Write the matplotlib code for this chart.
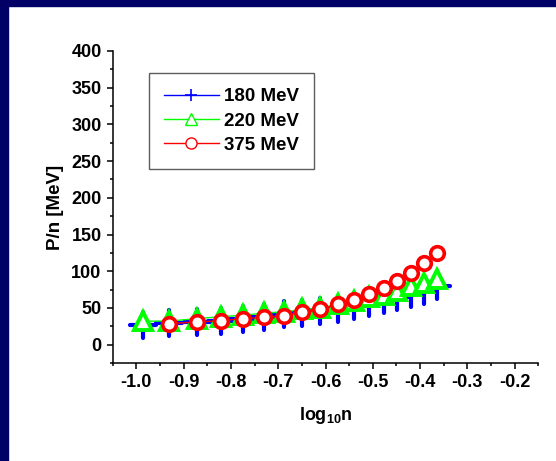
import matplotlib
matplotlib.use("Agg")
import matplotlib.pyplot as plt
from matplotlib.lines import Line2D
from matplotlib.markers import MarkerStyle
from matplotlib.patches import Rectangle
from matplotlib.ticker import MultipleLocator, FormatStrFormatter

# log10 of density, shared grid; the 375 MeV curve starts at the second point
log_n = [-0.986, -0.931, -0.872, -0.822, -0.775, -0.730, -0.688, -0.649, -0.611,
         -0.574, -0.540, -0.508, -0.477, -0.449, -0.419, -0.392, -0.365]
p_180 = [27, 29.5, 31.5, 32, 34.5, 37.5, 42, 43.5, 46, 48.5, 52, 57, 60.5, 64.5,
         68.5, 73, 80]
p_220 = [32, 32, 35.5, 38, 40, 43, 44.5, 48, 50, 55, 60, 64.5, 68, 73.5, 80,
         84.5, 89.5]
log_n_375 = log_n[1:]
p_375 = [28.5, 31, 32.5, 35.5, 37, 39, 45, 48.5, 55, 60.5, 68.5, 77, 87, 98,
         111, 124.5]
labels = ["180 MeV", "220 MeV", "375 MeV"]

plt.rcParams["font.family"] = ["Liberation Sans", "DejaVu Sans"]
plt.rcParams["font.weight"] = "bold"
plt.rcParams["mathtext.fontset"] = "custom"
plt.rcParams["mathtext.rm"] = "Liberation Sans:bold"
plt.rcParams["mathtext.bf"] = "Liberation Sans:bold"
plt.rcParams["axes.unicode_minus"] = False

fig = plt.figure(figsize=(5.56, 4.61), dpi=100)
fig.patch.set_facecolor("white")
# navy border strips along the top and left edge
fig.patches.append(Rectangle((0, 1 - 6 / 461), 1, 6 / 461, transform=fig.transFigure,
                             color="#000066", zorder=0))
fig.patches.append(Rectangle((0, 0), 8 / 556, 1, transform=fig.transFigure,
                             color="#000066", zorder=0))

ax = fig.add_axes([0.2027, 0.2126, 0.7655, 0.6768])

plus = MarkerStyle("+", capstyle="round")
ax.plot(log_n, p_180, color="#0000ff", lw=1.0, marker=plus, ms=18.5, mew=3,
        zorder=2)
ax.plot(log_n, p_220, color="#00ff00", lw=1.0, marker="^", ms=13.5, mew=2.8,
        mfc="white", zorder=3)
ax.plot(log_n_375, p_375, color="#ff0000", lw=1.0, marker="o", ms=9.8, mew=2.6,
        mfc="white", zorder=4)

ax.set_xlim(-1.05, -0.15)
ax.set_ylim(-25, 400)
ax.xaxis.set_major_locator(MultipleLocator(0.1))
ax.xaxis.set_minor_locator(MultipleLocator(0.05))
ax.xaxis.set_major_formatter(FormatStrFormatter("%.1f"))
ax.yaxis.set_major_locator(MultipleLocator(50))
ax.yaxis.set_minor_locator(MultipleLocator(25))

for side in ("top", "right"):
    ax.spines[side].set_visible(False)
for side in ("left", "bottom"):
    ax.spines[side].set_linewidth(1.1)
ax.tick_params(which="major", direction="out", length=4, width=1.1,
               labelsize=13, pad=4)
ax.tick_params(which="minor", direction="out", length=2.2, width=1.1)

ax.set_ylabel("P/n [MeV]", fontsize=13.5, fontweight="bold", labelpad=5)
ax.set_xlabel(r"$\mathbf{log_{10}n}$", fontsize=13, labelpad=10)

handles = [
    Line2D([], [], color="#0000ff", lw=1.0, marker="+", ms=9, mew=1.2),
    Line2D([], [], color="#00ff00", lw=1.0, marker="^", ms=8, mew=1.0, mfc="white"),
    Line2D([], [], color="#ff0000", lw=1.0, marker="o", ms=8, mew=1.0, mfc="white"),
]
leg = ax.legend(handles, labels, loc="upper left", bbox_to_anchor=(0.086, 0.9285),
                borderaxespad=0, fancybox=False, frameon=True, fontsize=13.5,
                handlelength=2.9, handletextpad=0.3, labelspacing=0.38,
                borderpad=0.8)
leg.get_frame().set_edgecolor("#333333")
leg.get_frame().set_linewidth(1.0)

fig.savefig("out.png", dpi=100)
